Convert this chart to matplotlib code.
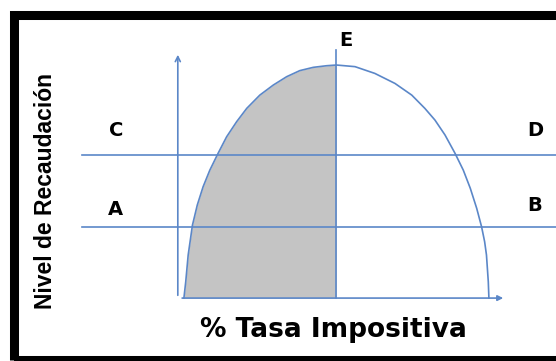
import matplotlib
matplotlib.use("Agg")
import matplotlib.pyplot as plt
from matplotlib.patches import Rectangle

# curva de Laffer (% tasa, nivel de recaudacion)
tasa = [0, 0.6, 1.4, 2.8, 4.4, 6.3, 8.5, 11.2, 14.0, 17.3, 20.6, 24.9, 29.3,
        33.7, 38.0, 42.4, 46.8, 50.0,
        56.1, 62.6, 69.2, 74.7, 79.0, 82.3, 85.6, 88.9, 91.6, 93.9, 96.0,
        97.6, 98.6, 99.2, 99.8, 100]
recaudacion = [0, 7.0, 18.5, 31.3, 40.0, 47.8, 54.9, 62.1, 69.2, 75.7, 81.4,
               87.1, 91.4, 95.0, 97.6, 99.0, 99.7, 100,
               99.3, 96.4, 92.1, 87.1, 81.4, 76.4, 70.0, 62.1, 54.9, 47.1, 38.5,
               30.6, 24.2, 18.5, 7.0, 0]

nivel_cd = 61.4
nivel_ab = 30.5
tasa_e = 50.0
etiquetas = ["A", "B", "C", "D", "E"]

azul = "#5b87c8"

fig = plt.figure(figsize=(5.56, 3.61), dpi=100)
ax = fig.add_axes([0, 0, 1, 1])
ax.set_xlim(-60.3, 122.0)
ax.set_ylim(-27.0, 127.9)
ax.axis("off")

# area sombreada hasta E
idx = tasa.index(tasa_e)
ax.fill_between(tasa[:idx + 1], recaudacion[:idx + 1], 0, color="#c4c4c4", lw=0)

ax.plot(tasa, recaudacion, color=azul, lw=1.2, solid_joinstyle="round")

# lineas horizontales C-D y A-B
ax.plot([-33.4, 125], [nivel_cd, nivel_cd], color=azul, lw=1.2)
ax.plot([-33.4, 125], [nivel_ab, nivel_ab], color=azul, lw=1.2)

# linea vertical E
ax.plot([tasa_e, tasa_e], [0, 106.4], color=azul, lw=1.2)

# ejes con flecha
ax.annotate("", xy=(-2.0, 105.6), xytext=(-2.0, 0),
            arrowprops=dict(arrowstyle="->", color=azul, lw=1.2, mutation_scale=9))
ax.annotate("", xy=(105.6, 0), xytext=(-1.5, 0),
            arrowprops=dict(arrowstyle="-|>", color=azul, lw=1.2, mutation_scale=8))

fuente = dict(family="DejaVu Sans", fontweight="bold", fontsize=14, ha="center", va="center")
ax.text(-22.3, 37.8, etiquetas[0], **fuente)
ax.text(115.1, 39.9, etiquetas[1], **fuente)
ax.text(-22.3, 72.1, etiquetas[2], **fuente)
ax.text(115.1, 72.1, etiquetas[3], **fuente)
ax.text(53.1, 110.7, etiquetas[4], **fuente)

fig.text(46 / 556, 1 - 191 / 361, "Nivel de Recaudación", rotation=90,
         family="Liberation Sans", fontweight="bold",
         fontsize=16.5, ha="center", va="center")
fig.text(333 / 556, 1 - 330 / 361, "% Tasa Impositiva", family="DejaVu Sans",
         fontweight="bold", fontsize=19, ha="center", va="center")

# marco negro
fig.patches.append(Rectangle((13.5 / 556, 1 - 359.5 / 361), 1.1, (359.5 - 14.5) / 361,
                             transform=fig.transFigure, fill=False, ec="black", lw=6.5))

fig.savefig("out.png", dpi=100)
